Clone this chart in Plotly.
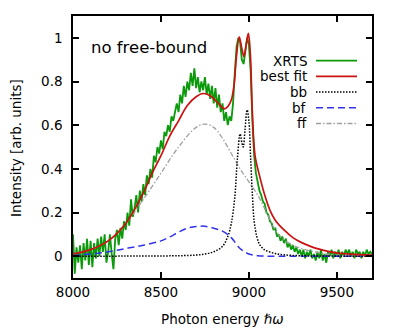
import plotly.graph_objects as go

# --- data ---
energy_xrts = list(range(8000, 9701, 10))
xrts = [
    0.10, -0.08, 0.04, -0.03, 0.05, -0.06, 0.06, -0.02, 0.08, -0.04,
    0.07, -0.05, 0.06, -0.01, 0.08, 0.00, 0.09, 0.02, 0.10, -0.03,
    0.02, 0.10, 0.01, -0.06, 0.08, 0.12, 0.05, 0.13, 0.08, 0.16,
    0.12, 0.20, 0.14, 0.26, 0.18, 0.22, 0.28, 0.20, 0.30, 0.25,
    0.33, 0.28, 0.37, 0.33, 0.40, 0.36, 0.46, 0.43, 0.50, 0.47,
    0.53, 0.49, 0.57, 0.55, 0.60, 0.57, 0.64, 0.62, 0.66, 0.70,
    0.66, 0.74, 0.70, 0.78, 0.73, 0.80, 0.76, 0.84, 0.78, 0.86,
    0.77, 0.82, 0.75, 0.80, 0.76, 0.82, 0.74, 0.79, 0.72, 0.78,
    0.70, 0.77, 0.68, 0.74, 0.66, 0.70, 0.62, 0.66, 0.60, 0.64,
    0.62, 0.70, 0.84, 0.96, 1.00, 0.98, 0.90, 0.88, 0.94, 1.00,
    0.97, 0.85, 0.62, 0.46, 0.38, 0.34, 0.30, 0.28, 0.25, 0.24,
    0.20, 0.19, 0.16, 0.15, 0.12, 0.13, 0.09, 0.10, 0.07, 0.09,
    0.06, 0.08, 0.04, 0.06, 0.03, 0.05, 0.02, 0.04, 0.01, 0.03,
    0.00, 0.03, -0.01, 0.02, 0.00, 0.03, -0.01, 0.01, -0.02, 0.02,
    -0.01, 0.03, -0.02, 0.01, -0.03, 0.02, 0.00, 0.03, -0.01, 0.02,
    0.00, 0.03, -0.01, 0.02, 0.00, 0.03, 0.01, 0.03, 0.00, 0.02,
    -0.01, 0.03, 0.01, 0.02, -0.01, 0.02, 0.00, 0.03, 0.01, 0.02,
    0.01,
]

energy_fit = [8000, 8100, 8200, 8300, 8400, 8450, 8500, 8550, 8600, 8650,
              8700, 8740, 8780, 8820, 8860, 8880, 8900, 8915, 8930, 8945,
              8960, 8972, 8985, 8997, 9008, 9020, 9035, 9060, 9090, 9120,
              9150, 9200, 9250, 9300, 9350, 9400, 9450, 9500, 9600, 9700]
best_fit = [0.01, 0.03, 0.07, 0.15, 0.29, 0.38, 0.46, 0.55, 0.62, 0.69,
            0.73, 0.745, 0.735, 0.705, 0.675, 0.685, 0.715, 0.78, 0.92, 1.005,
            0.95, 0.915, 0.97, 1.02, 0.93, 0.65, 0.46, 0.37, 0.28, 0.21,
            0.165, 0.12, 0.085, 0.062, 0.045, 0.032, 0.022, 0.015, 0.008, 0.005]

energy_bb = [8000, 8600, 8700, 8750, 8800, 8850, 8880, 8900, 8920, 8935,
             8950, 8960, 8968, 8978, 8990, 9000, 9010, 9020, 9030, 9045,
             9060, 9080, 9100, 9150, 9200, 9300, 9700]
bb = [0.0, 0.002, 0.005, 0.01, 0.02, 0.045, 0.09, 0.15, 0.27, 0.45,
      0.56, 0.52, 0.50, 0.58, 0.67, 0.62, 0.45, 0.28, 0.16, 0.09,
      0.055, 0.035, 0.025, 0.012, 0.006, 0.002, 0.0]

energy_bf = [8000, 8100, 8200, 8300, 8400, 8500, 8550, 8600, 8650, 8700,
             8750, 8800, 8850, 8900, 8950, 9000, 9050, 9100, 9700]
bf = [0.003, 0.01, 0.02, 0.035, 0.05, 0.07, 0.088, 0.11, 0.128, 0.136,
      0.137, 0.128, 0.115, 0.085, 0.035, 0.01, 0.002, 0.0, 0.0]

energy_ff = [8000, 8100, 8200, 8300, 8400, 8500, 8600, 8700, 8750, 8800,
             8850, 8900, 8950, 9000, 9050, 9100, 9150, 9200, 9250, 9300,
             9400, 9500, 9700]
ff = [0.01, 0.03, 0.07, 0.15, 0.26, 0.38, 0.50, 0.59, 0.605, 0.59,
      0.54, 0.47, 0.40, 0.34, 0.28, 0.20, 0.12, 0.075, 0.05, 0.035,
      0.015, 0.005, 0.0]

x_ticks = [8000, 8500, 9000, 9500]
y_ticks = [0, 0.2, 0.4, 0.6, 0.8, 1]
y_tick_labels = ["0", "0.2", "0.4", "0.6", "0.8", "1"]

GREEN = "#0a9a0a"
RED = "#cc1111"
BLUE = "#3333ee"
GRAY = "#a0a0a0"
FONT = "DejaVu Sans"
FS = 13.5

fig = go.Figure()

fig.add_trace(go.Scatter(x=energy_xrts, y=xrts, mode="lines",
                         line=dict(color=GREEN, width=1.8)))
fig.add_trace(go.Scatter(x=energy_ff, y=ff, mode="lines", line_shape="spline",
                         line=dict(color=GRAY, width=1.3, dash="5px,2px,1.5px,2px")))
fig.add_trace(go.Scatter(x=energy_bf, y=bf, mode="lines", line_shape="spline",
                         line=dict(color=BLUE, width=1.5, dash="7px,4px")))
fig.add_trace(go.Scatter(x=energy_bb, y=bb, mode="lines", line_shape="spline",
                         line=dict(color="black", width=1.5, dash="1.5px,1.5px")))
fig.add_trace(go.Scatter(x=energy_fit, y=best_fit, mode="lines", line_shape="spline",
                         line=dict(color=RED, width=1.7)))

# the page has an 8px body margin, so the figure is drawn 8px smaller
# and all pixel positions below are given in window pixels
OFF = 8
W, H = 399 - OFF, 330 - OFF
L, R, T, B = 73, 372, 16, 278   # plot frame in window pixels
PW, PH = R - L, B - T


def px_x(x):
    return (x - L) / PW


def px_y(y):
    return 1 - (y - T) / PH


# gnuplot-style key: text on the left, line sample on the right
legend_items = [
    ("XRTS", GREEN, "solid", 1.8),
    ("best fit", RED, "solid", 1.7),
    ("bb", "black", "1.5px,1.5px", 1.5),
    ("bf", BLUE, "7px,4px", 1.5),
    ("ff", GRAY, "5px,2px,1.5px,2px", 1.3),
]
shapes = []
annotations = []
for i, (name, color, dash, width) in enumerate(legend_items):
    y_paper = px_y(60.7 + i * 15.7)
    annotations.append(dict(
        x=px_x(309), y=y_paper, xref="paper", yref="paper",
        text=name, showarrow=False, xanchor="right", yanchor="middle",
        font=dict(family=FONT, size=FS, color="black")))
    shapes.append(dict(
        type="line", xref="paper", yref="paper",
        x0=px_x(316), x1=px_x(357), y0=y_paper, y1=y_paper,
        line=dict(color=color, width=width, dash=dash)))

annotations.append(dict(
    x=px_x(89), y=px_y(47), xref="paper", yref="paper",
    text="no free-bound", showarrow=False, xanchor="left", yanchor="middle",
    font=dict(family=FONT, size=16.5, color="black")))

# axis titles placed by hand so the frame does not move
annotations.append(dict(
    x=px_x(222), y=px_y(319), xref="paper", yref="paper",
    text="Photon energy <i>ℏω</i>", showarrow=False,
    xanchor="center", yanchor="middle",
    font=dict(family=FONT, size=FS, color="black")))
annotations.append(dict(
    x=px_x(16), y=px_y(148), xref="paper", yref="paper",
    text="Intensity [arb. units]", showarrow=False, textangle=-90,
    xanchor="center", yanchor="middle",
    font=dict(family=FONT, size=FS, color="black")))

axis_style = dict(
    showline=True, linecolor="black", linewidth=1.5, mirror="ticks",
    ticks="inside", ticklen=6, tickwidth=1.5, tickcolor="black",
    showgrid=False, zeroline=False, automargin=False,
    tickfont=dict(family=FONT, size=FS, color="black"),
)

fig.update_layout(
    width=W, height=H,
    margin=dict(l=L - OFF, r=399 - R, t=T - OFF, b=330 - B, autoexpand=False),
    plot_bgcolor="white", paper_bgcolor="white",
    showlegend=False,
    shapes=shapes, annotations=annotations,
    xaxis=dict(range=[8000, 9700], tickvals=x_ticks, ticklabelstandoff=1,
               **axis_style),
    yaxis=dict(range=[-0.1, 1.1], tickvals=y_ticks, ticktext=y_tick_labels,
               ticklabelstandoff=6, **axis_style),
)

fig.write_html("out.html")
